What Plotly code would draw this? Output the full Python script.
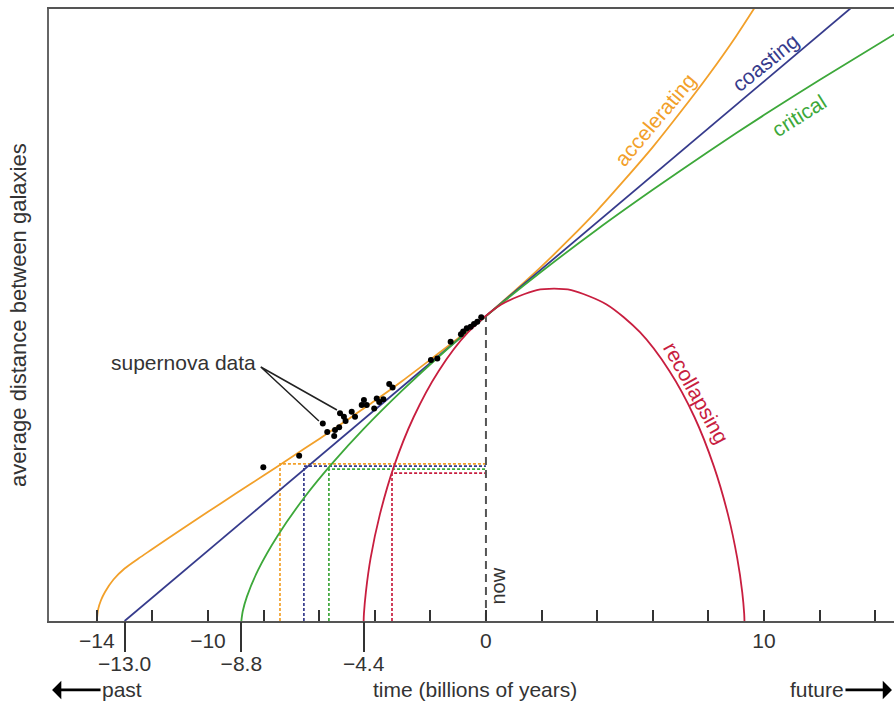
import plotly.graph_objects as go

# ---------------- data ----------------
# time in billions of years (0 = now), distance relative to today's (now = 1)
accel_t = [-14.0, -13.95, -13.85, -13.7, -13.4, -13.0, -12.5, -12.0, -11.0, -10.0, -9.0, -8.0,
           -7.0, -6.0, -5.0, -4.0, -3.0, -2.0, -1.0, 0.0, 1.0, 2.0, 3.0, 4.0, 5.0, 6.0, 7.0, 8.0,
           9.0, 10.0]
accel_a = [0.0, 0.039, 0.068, 0.096, 0.136, 0.172, 0.205, 0.236, 0.298, 0.358, 0.418, 0.477,
           0.537, 0.597, 0.659, 0.722, 0.788, 0.857, 0.927, 1.0, 1.080, 1.163, 1.252, 1.346,
           1.448, 1.554, 1.669, 1.789, 1.918, 2.059]

coast_t = [-13.0, 15.0]
coast_a = [0.0, 2.154]

crit_t = [-8.8, -8.75, -8.6, -8.2, -7.5, -6.5, -5.5, -4.4, -3.0, -1.5, 0.0, 2.0, 4.0, 6.0, 8.0,
          10.0, 12.0, 15.0]
crit_a = [0.0, 0.032, 0.080, 0.167, 0.279, 0.409, 0.520, 0.630, 0.757, 0.883, 1.0, 1.146, 1.284,
          1.414, 1.539, 1.659, 1.774, 1.941]

recol_t = [-4.4, -4.39, -4.32, -4.15, -3.82, -3.31, -2.60, -1.70, -0.64, 0.55, 1.83, 2.45, 3.07,
           4.34, 5.54, 6.60, 7.50, 8.20, 8.71, 9.04, 9.22, 9.29, 9.30]
recol_a = [0.0, 0.024, 0.095, 0.206, 0.348, 0.507, 0.669, 0.820, 0.947, 1.038, 1.085, 1.09, 1.085,
           1.038, 0.947, 0.820, 0.669, 0.507, 0.348, 0.206, 0.095, 0.024, 0.0]

sn_t = [-8.01, -6.72, -5.87, -5.71, -5.46, -5.43, -5.28, -5.25, -5.11, -5.05, -4.83, -4.71, -4.47,
        -4.39, -4.29, -4.02, -3.93, -3.84, -3.69, -3.48, -3.36, -1.98, -1.75, -1.27, -0.90, -0.82,
        -0.69, -0.55, -0.43, -0.31, -0.17]
sn_a = [0.504, 0.542, 0.648, 0.620, 0.607, 0.626, 0.635, 0.681, 0.670, 0.656, 0.686, 0.670, 0.708,
        0.725, 0.708, 0.697, 0.730, 0.718, 0.727, 0.777, 0.766, 0.856, 0.861, 0.916, 0.940, 0.949,
        0.960, 0.965, 0.974, 0.981, 0.996]

# time when distance was about half of today's, per model
model_names = ["accelerating", "coasting", "critical", "recollapsing"]
model_colors = ["#F2A02A", "#363B8C", "#3DA83A", "#C81E3F"]
half_t = [-7.41, -6.55, -5.65, -3.38]
half_a = [0.515, 0.508, 0.498, 0.485]

# ages of the universe (where each model starts)
age_vals = [-13.0, -8.8, -4.4]
age_text = ["\u221213.0", "\u22128.8", "\u22124.4"]

tick_vals = [-14, -12, -10, -8, -6, -4, -2, 0, 2, 4, 6, 8, 10, 12, 14]
tick_text = ["\u221214", "", "\u221210", "", "", "", "", "0", "", "", "", "", "10", "", ""]

# label positions (time, distance, angle)
label_pos = {
    "accelerating": (6.08, 1.646, -50),
    "coasting": (10.04, 1.833, -39),
    "critical": (11.26, 1.659, -32),
    "recollapsing": (7.55, 0.748, 61),
}

FONT = "Liberation Sans, Arial, Helvetica, sans-serif"
TXT = "#333333"

fig = go.Figure()

curves = [(accel_t, accel_a), (coast_t, coast_a), (crit_t, crit_a), (recol_t, recol_a)]

# half-distance dotted guides
for name, col, ht, ha in zip(model_names, model_colors, half_t, half_a):
    fig.add_trace(go.Scatter(x=[ht, ht, 0], y=[0, ha, ha], mode="lines",
                             line=dict(color=col, width=1.7, dash="3px,2px"),
                             hoverinfo="skip", showlegend=False))

# "now" dashed line
fig.add_trace(go.Scatter(x=[0, 0], y=[0, 1.0], mode="lines",
                         line=dict(color="#555555", width=2, dash="8px,5px"),
                         hoverinfo="skip", showlegend=False))

for name, col, (tt, aa) in zip(model_names, model_colors, curves):
    fig.add_trace(go.Scatter(x=tt, y=aa, mode="lines", name=name,
                             line=dict(color=col, width=1.8, shape="spline", smoothing=0.8),
                             showlegend=False))

# pointer lines for "supernova data"
fig.add_trace(go.Scatter(x=[-6.01, -8.1, -5.36], y=[0.656, 0.833, 0.692], mode="lines",
                         line=dict(color="#222222", width=1.5),
                         hoverinfo="skip", showlegend=False))

fig.add_trace(go.Scatter(x=sn_t, y=sn_a, mode="markers",
                         marker=dict(color="black", size=6),
                         name="supernova data", showlegend=False))

# invisible trace to carry the secondary tick axis
fig.add_trace(go.Scatter(x=age_vals, y=[0, 0, 0], xaxis="x2", mode="markers",
                         marker=dict(opacity=0), hoverinfo="skip", showlegend=False))

ann = []
for name, col in zip(model_names, model_colors):
    x, y, ang = label_pos[name]
    ann.append(dict(x=x, y=y, xref="x", yref="y", text=name, showarrow=False,
                    textangle=ang, font=dict(family=FONT, size=21, color=col)))

ann.append(dict(x=-8.2, y=0.849, xref="x", yref="y", text="supernova data", showarrow=False,
                xanchor="right", yanchor="middle", font=dict(family=FONT, size=21, color=TXT)))
ann.append(dict(x=0.42, y=0.115, xref="x", yref="y", text="now", showarrow=False,
                textangle=-90, font=dict(family=FONT, size=20, color=TXT)))
ann.append(dict(x=0.504, y=-0.1127, xref="paper", yref="paper", text="time (billions of years)",
                xanchor="center", yanchor="middle", showarrow=False,
                font=dict(family=FONT, size=21, color=TXT)))
ann.append(dict(x=-0.0367, y=0.5, xref="paper", yref="paper",
                text="average distance between galaxies", showarrow=False, textangle=-90,
                xanchor="center", yanchor="middle",
                font=dict(family=FONT, size=22, color=TXT)))
ann.append(dict(x=0.0036, y=-0.1127, xref="paper", yref="paper", text="past", showarrow=True,
                ax=70, ay=0, arrowhead=1, arrowsize=1.1, arrowwidth=2.8, arrowcolor="black",
                xanchor="center", yanchor="middle",
                font=dict(family=FONT, size=21, color=TXT)))
ann.append(dict(x=0.9976, y=-0.1127, xref="paper", yref="paper", text="future", showarrow=True,
                ax=-75, ay=0, arrowhead=1, arrowsize=1.1, arrowwidth=2.8, arrowcolor="black",
                xanchor="center", yanchor="middle",
                font=dict(family=FONT, size=21, color=TXT)))

fig.update_layout(
    width=894, height=706,
    margin=dict(l=49, r=0, t=9, b=85),
    paper_bgcolor="white", plot_bgcolor="white",
    showlegend=False,
    annotations=ann,
    xaxis=dict(range=[-15.72, 14.68], tickvals=tick_vals, ticktext=tick_text,
               ticks="inside", ticklen=11, tickwidth=1.5, tickcolor="#333333",
               showline=True, linecolor="#555555", linewidth=2, mirror=True,
               showgrid=False, zeroline=False,
               tickfont=dict(family=FONT, size=21, color=TXT)),
    xaxis2=dict(range=[-15.72, 14.68], overlaying="x", anchor="y", side="bottom",
                tickvals=age_vals, ticktext=age_text, ticks="outside", ticklen=30,
                tickwidth=1.5, tickcolor="#333333", showline=False, showgrid=False,
                zeroline=False, ticklabelstandoff=-6,
                tickfont=dict(family=FONT, size=21, color=TXT)),
    yaxis=dict(range=[0, 2.007], showticklabels=False, ticks="", showgrid=False,
               zeroline=False, showline=True, linecolor="#666666", linewidth=2),
)

fig.write_html("out.html")
